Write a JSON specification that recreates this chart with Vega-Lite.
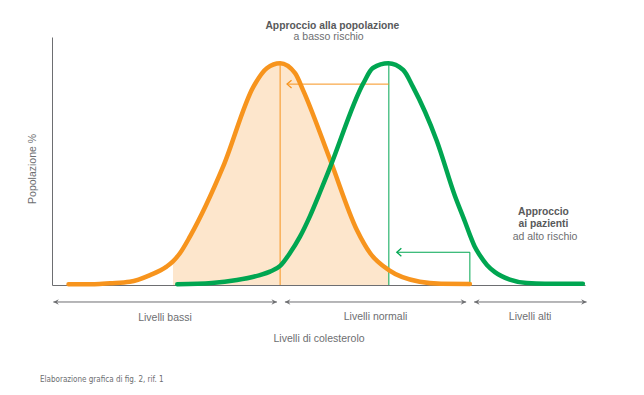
{
  "$schema": "https://vega.github.io/schema/vega-lite/v6.json",
  "width": 533,
  "height": 248,
  "autosize": "none",
  "padding": {"left": 52, "top": 37, "right": 59, "bottom": 110},
  "background": "white",
  "config": {
    "view": {"stroke": null},
    "font": "Liberation Sans",
    "axis": {"domainColor": "#6d6e71", "domainWidth": 1, "ticks": false, "labels": false, "grid": false, "title": null}
  },
  "datasets": {
    "curves": [
      {"serie": "basso", "x": 3.1, "y": 0.3},
      {"serie": "basso", "x": 8.0, "y": 0.35},
      {"serie": "basso", "x": 10.9, "y": 0.7},
      {"serie": "basso", "x": 14.6, "y": 1.3},
      {"serie": "basso", "x": 18.4, "y": 4.0},
      {"serie": "basso", "x": 21.5, "y": 7.4},
      {"serie": "basso", "x": 22.7, "y": 9.5},
      {"serie": "basso", "x": 24.0, "y": 12.8},
      {"serie": "basso", "x": 25.9, "y": 19.6},
      {"serie": "basso", "x": 32.1, "y": 47.7},
      {"serie": "basso", "x": 37.8, "y": 80.0},
      {"serie": "basso", "x": 40.3, "y": 87.4},
      {"serie": "basso", "x": 42.8, "y": 89.4},
      {"serie": "basso", "x": 45.6, "y": 85.4},
      {"serie": "basso", "x": 47.1, "y": 78.6},
      {"serie": "basso", "x": 52.2, "y": 50.4},
      {"serie": "basso", "x": 57.2, "y": 22.2},
      {"serie": "basso", "x": 59.7, "y": 12.8},
      {"serie": "basso", "x": 63.2, "y": 6.0},
      {"serie": "basso", "x": 69.0, "y": 1.3},
      {"serie": "basso", "x": 73.0, "y": 0.5},
      {"serie": "basso", "x": 78.4, "y": 0.4},
      {"serie": "alto", "x": 23.5, "y": 0.3},
      {"serie": "alto", "x": 30.0, "y": 0.8},
      {"serie": "alto", "x": 34.7, "y": 2.0},
      {"serie": "alto", "x": 39.0, "y": 4.0},
      {"serie": "alto", "x": 40.9, "y": 5.4},
      {"serie": "alto", "x": 42.8, "y": 7.7},
      {"serie": "alto", "x": 44.65, "y": 12.9},
      {"serie": "alto", "x": 46.5, "y": 19.4},
      {"serie": "alto", "x": 48.4, "y": 27.8},
      {"serie": "alto", "x": 50.3, "y": 37.5},
      {"serie": "alto", "x": 52.2, "y": 47.6},
      {"serie": "alto", "x": 58.4, "y": 81.3},
      {"serie": "alto", "x": 60.2, "y": 87.5},
      {"serie": "alto", "x": 63.1, "y": 89.4},
      {"serie": "alto", "x": 65.9, "y": 86.7},
      {"serie": "alto", "x": 67.7, "y": 80.0},
      {"serie": "alto", "x": 72.2, "y": 58.1},
      {"serie": "alto", "x": 75.6, "y": 35.9},
      {"serie": "alto", "x": 77.5, "y": 25.4},
      {"serie": "alto", "x": 78.4, "y": 20.2},
      {"serie": "alto", "x": 79.3, "y": 15.5},
      {"serie": "alto", "x": 80.3, "y": 11.9},
      {"serie": "alto", "x": 81.6, "y": 8.1},
      {"serie": "alto", "x": 83.1, "y": 5.2},
      {"serie": "alto", "x": 85.9, "y": 2.2},
      {"serie": "alto", "x": 89.1, "y": 0.8},
      {"serie": "alto", "x": 92.5, "y": 0.5},
      {"serie": "alto", "x": 99.6, "y": 0.5}
    ],
    "vlines": [
      {"serie": "basso", "x": 42.8, "y": 0, "y2": 89.4},
      {"serie": "alto", "x": 63.2, "y": 0, "y2": 89.4},
      {"serie": "alto", "x": 78.4, "y": 0, "y2": 13.2}
    ],
    "hlines": [
      {"serie": "basso", "x": 63.2, "x2": 44.1, "y": 81.0},
      {"serie": "alto", "x": 78.4, "x2": 64.7, "y": 13.2}
    ],
    "ranges": [
      {"x": 0.25, "x2": 42.2, "y": -6.85},
      {"x": 43.7, "x2": 77.7, "y": -6.85},
      {"x": 79.2, "x2": 100.3, "y": -6.85}
    ],
    "rangeheads": [
      {"x": 0.25, "y": -6.85, "dir": "L"},
      {"x": 42.2, "y": -6.85, "dir": "R"},
      {"x": 43.7, "y": -6.85, "dir": "L"},
      {"x": 77.7, "y": -6.85, "dir": "R"},
      {"x": 79.2, "y": -6.85, "dir": "L"},
      {"x": 100.3, "y": -6.85, "dir": "R"}
    ],
    "regular": [
      {"t": "a basso rischio", "x": 51.9, "y": 98.6},
      {"t": "ad alto rischio", "x": 92.5, "y": 18.1},
      {"t": "Livelli bassi", "x": 21.2, "y": -14.4},
      {"t": "Livelli normali", "x": 60.7, "y": -14.3},
      {"t": "Livelli alti", "x": 89.7, "y": -14.3},
      {"t": "Livelli di colesterolo", "x": 50.1, "y": -22.8}
    ],
    "bold": [
      {"t": "Approccio alla popolazione", "x": 52.6, "y": 103.4},
      {"t": "Approccio", "x": 92.2, "y": 28.4},
      {"t": "ai pazienti", "x": 92.2, "y": 23.4}
    ]
  },
  "encoding": {
    "x": {"type": "quantitative", "scale": {"domain": [0, 100], "nice": false, "zero": false}, "axis": {"title": null}},
    "y": {"type": "quantitative", "scale": {"domain": [0, 100], "nice": false, "zero": false}, "axis": {"title": null}}
  },
  "layer": [
    {
      "data": {"name": "curves"},
      "transform": [{"filter": "datum.serie === 'basso' && datum.x >= 22.7 && datum.x <= 63.2"}],
      "mark": {"type": "area", "interpolate": "monotone", "color": "#FDE6CC"},
      "encoding": {"x": {"field": "x", "type": "quantitative"}, "y": {"field": "y", "type": "quantitative"}}
    },
    {
      "data": {"name": "vlines"},
      "mark": {"type": "rule", "strokeWidth": 1},
      "encoding": {
        "x": {"field": "x", "type": "quantitative"},
        "y": {"field": "y", "type": "quantitative"},
        "y2": {"field": "y2"},
        "color": {"field": "serie", "type": "nominal", "scale": {"domain": ["basso", "alto"], "range": ["#F7941D", "#00A651"]}, "legend": null}
      }
    },
    {
      "data": {"name": "hlines"},
      "mark": {"type": "rule", "strokeWidth": 1},
      "encoding": {
        "x": {"field": "x", "type": "quantitative"},
        "x2": {"field": "x2"},
        "y": {"field": "y", "type": "quantitative"},
        "color": {"field": "serie", "type": "nominal", "legend": null}
      }
    },
    {
      "data": {"name": "hlines"},
      "mark": {"type": "point", "shape": "M1.5,-1.3L0,0L1.5,1.3", "filled": false, "size": 36, "strokeWidth": 1.3, "opacity": 1},
      "encoding": {
        "x": {"field": "x2", "type": "quantitative"},
        "y": {"field": "y", "type": "quantitative"},
        "color": {"field": "serie", "type": "nominal", "legend": null}
      }
    },
    {
      "data": {"name": "curves"},
      "mark": {"type": "line", "interpolate": "monotone", "strokeWidth": 4.5, "strokeCap": "round", "strokeJoin": "round"},
      "encoding": {
        "x": {"field": "x", "type": "quantitative"},
        "y": {"field": "y", "type": "quantitative"},
        "color": {"field": "serie", "type": "nominal", "legend": null},
        "order": {"field": "x", "type": "quantitative"}
      }
    },
    {
      "data": {"name": "ranges"},
      "mark": {"type": "rule", "strokeWidth": 1, "color": "#6d6e71"},
      "encoding": {
        "x": {"field": "x", "type": "quantitative"},
        "x2": {"field": "x2"},
        "y": {"field": "y", "type": "quantitative"}
      }
    },
    {
      "data": {"name": "rangeheads"},
      "mark": {"type": "point", "filled": true, "size": 30, "color": "#6d6e71", "opacity": 1},
      "encoding": {
        "x": {"field": "x", "type": "quantitative"},
        "y": {"field": "y", "type": "quantitative"},
        "shape": {"field": "dir", "type": "nominal", "scale": {"domain": ["L", "R"], "range": ["M0,0L2,-1L1.3,0L2,1Z", "M0,0L-2,-1L-1.3,0L-2,1Z"]}, "legend": null}
      }
    },
    {
      "data": {"name": "regular"},
      "mark": {"type": "text", "fontSize": 10.5, "color": "#6d6e71", "align": "center", "baseline": "alphabetic"},
      "encoding": {
        "x": {"field": "x", "type": "quantitative"},
        "y": {"field": "y", "type": "quantitative"},
        "text": {"field": "t"}
      }
    },
    {
      "data": {"name": "bold"},
      "mark": {"type": "text", "fontSize": 10.3, "fontWeight": "bold", "color": "#58595b", "align": "center", "baseline": "alphabetic"},
      "encoding": {
        "x": {"field": "x", "type": "quantitative"},
        "y": {"field": "y", "type": "quantitative"},
        "text": {"field": "t"}
      }
    },
    {
      "data": {"values": [{"t": "Popolazione %", "x": -3.85, "y": 46.8}]},
      "mark": {"type": "text", "fontSize": 10.5, "color": "#6d6e71", "align": "center", "baseline": "middle", "angle": 270, "dy": 1.5},
      "encoding": {
        "x": {"field": "x", "type": "quantitative"},
        "y": {"field": "y", "type": "quantitative"},
        "text": {"field": "t"}
      }
    },
    {
      "data": {"values": [{"t": "Elaborazione grafica di fig. 2, rif. 1", "x": -2.25, "y": -38.3}]},
      "mark": {"type": "text", "fontSize": 8, "font": "Liberation Sans Narrow, DejaVu Sans Condensed", "color": "#6d6e71", "align": "left", "baseline": "middle"},
      "encoding": {
        "x": {"field": "x", "type": "quantitative"},
        "y": {"field": "y", "type": "quantitative"},
        "text": {"field": "t"}
      }
    }
  ]
}
